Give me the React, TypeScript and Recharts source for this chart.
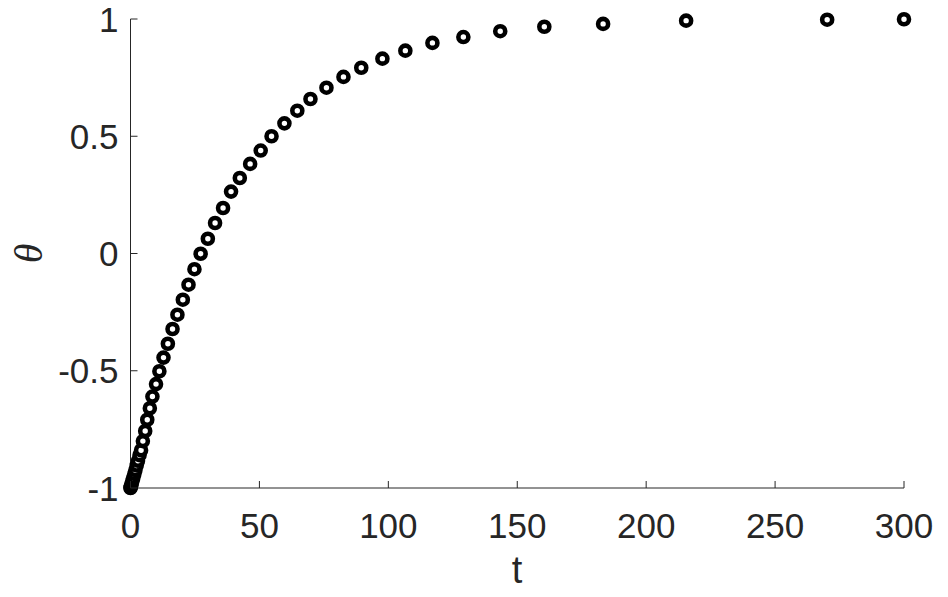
import { Scatter, ScatterChart, XAxis, YAxis } from "recharts";

// time samples (solver steps get sparser as the curve flattens)
const T_VALUES = [
  0, 0.05, 0.15, 0.3, 0.5, 0.8, 1.1, 1.5, 1.9, 2.4, 2.9, 3.5, 4.1, 4.8, 5.7, 6.5, 7.5, 8.5,
  9.9, 11.2, 12.8, 14.5, 16.3, 18.2, 20.3, 22.5, 24.8, 27.2, 30.0, 32.8, 35.9, 39.0, 42.4,
  46.4, 50.5, 54.7, 59.7, 64.7, 69.8, 76.0, 82.6, 89.5, 97.7, 106.6, 117.1, 129.1, 143.4,
  160.5, 183.3, 215.5, 270.2, 300,
];

const THETA_VALUES = [
  -1, -0.998, -0.994, -0.988, -0.98, -0.968, -0.956, -0.94, -0.924, -0.904, -0.884, -0.86,
  -0.839, -0.8, -0.757, -0.709, -0.66, -0.61, -0.557, -0.502, -0.444, -0.385, -0.322, -0.261,
  -0.197, -0.133, -0.067, -0.001, 0.063, 0.13, 0.194, 0.264, 0.322, 0.382, 0.439, 0.5, 0.555,
  0.609, 0.659, 0.707, 0.753, 0.792, 0.831, 0.865, 0.898, 0.923, 0.948, 0.967, 0.979, 0.993,
  0.997, 0.999,
];

const X_TICKS = [0, 50, 100, 150, 200, 250, 300];
const Y_TICKS = [-1, -0.5, 0, 0.5, 1];

const INK = "#262626";
const FONT = "'Liberation Sans', Arial, sans-serif";
const TICK_LEN = 7;

const data = T_VALUES.map((t, i) => ({ t, theta: THETA_VALUES[i] }));

// MATLAB-style ticks: marks point into the plot box, labels sit outside
function BottomTick({ x, y, payload }: any) {
  return (
    <g>
      <line x1={x} x2={x} y1={y} y2={y - TICK_LEN} stroke={INK} strokeWidth={1} />
      <text x={x} y={y + 50} textAnchor="middle" fill={INK} fontSize={35} fontFamily={FONT}>
        {String(payload.value)}
      </text>
    </g>
  );
}

function TopTick({ x, y }: any) {
  return <line x1={x} x2={x} y1={y} y2={y + TICK_LEN} stroke={INK} strokeWidth={1} />;
}

function LeftTick({ x, y, payload }: any) {
  return (
    <g>
      <line x1={x} x2={x + TICK_LEN} y1={y} y2={y} stroke={INK} strokeWidth={1} />
      <text x={x - 12} y={y + 12.5} textAnchor="end" fill={INK} fontSize={35} fontFamily={FONT}>
        {String(payload.value)}
      </text>
    </g>
  );
}

function RightTick({ x, y }: any) {
  return <line x1={x} x2={x - TICK_LEN} y1={y} y2={y} stroke={INK} strokeWidth={1} />;
}

function RingMarker({ cx, cy }: any) {
  return <circle cx={cx} cy={cy} r={5} fill="#fff" stroke="#000" strokeWidth={4.6} />;
}

export default function App() {
  return (
    <div style={{ margin: -8, width: 948, height: 597 }}>
      <ScatterChart width={948} height={597} margin={{ top: 19, right: 44, bottom: 0, left: 0 }}>
        <XAxis
          xAxisId="b"
          type="number"
          dataKey="t"
          domain={[0, 300]}
          ticks={X_TICKS}
          height={109}
          tickSize={0}
          tickMargin={0}
          tickLine={false}
          stroke={INK}
          tick={<BottomTick />}
          label={{
            content: () => (
              <text x={517} y={583} textAnchor="middle" fill={INK} fontSize={38} fontFamily={FONT}>
                t
              </text>
            ),
          }}
        />
        <XAxis
          xAxisId="top"
          orientation="top"
          type="number"
          dataKey="t"
          domain={[0, 300]}
          ticks={X_TICKS}
          height={0}
          tickSize={0}
          tickMargin={0}
          tickLine={false}
          stroke={INK}
          tick={<TopTick />}
        />
        <YAxis
          yAxisId="l"
          type="number"
          dataKey="theta"
          domain={[-1, 1]}
          ticks={Y_TICKS}
          width={130.5}
          tickSize={0}
          tickMargin={0}
          tickLine={false}
          stroke={INK}
          tick={<LeftTick />}
          label={{
            content: () => (
              <text
                x={28}
                y={253.5}
                transform="rotate(-90 28 253.5)"
                textAnchor="middle"
                dominantBaseline="central"
                fill={INK}
                fontSize={40}
                fontStyle="italic"
                fontFamily="'Liberation Serif', 'Times New Roman', serif"
              >
                θ
              </text>
            ),
          }}
        />
        <YAxis
          yAxisId="r"
          orientation="right"
          type="number"
          dataKey="theta"
          domain={[-1, 1]}
          ticks={Y_TICKS}
          width={0}
          tickSize={0}
          tickMargin={0}
          tickLine={false}
          stroke={INK}
          tick={<RightTick />}
        />
        <Scatter
          data={data}
          xAxisId="b"
          yAxisId="l"
          shape={<RingMarker />}
          isAnimationActive={false}
        />
      </ScatterChart>
    </div>
  );
}
